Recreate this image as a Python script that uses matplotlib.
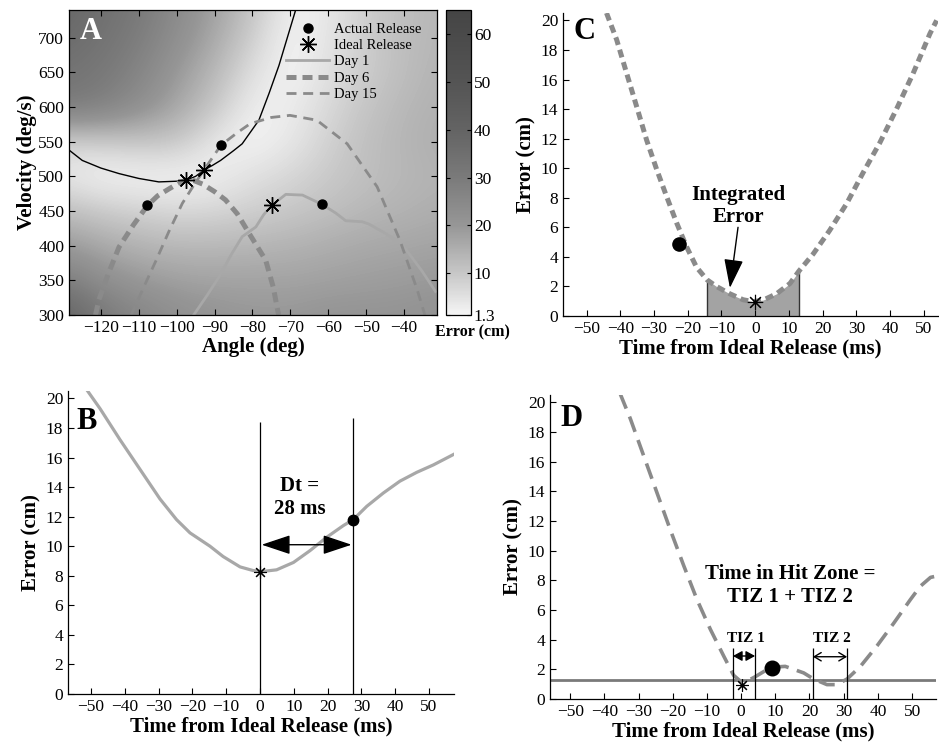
import numpy as np
import matplotlib
matplotlib.use('Agg')
import matplotlib.pyplot as plt
from matplotlib.colors import LinearSegmentedColormap

plt.rcParams['font.family'] = ['Liberation Serif', 'DejaVu Serif']

# ---------------- panel A : error map
grid_angle = [-130, -120, -110, -100, -90, -80, -70, -60, -50, -40, -30]
grid_vel = [300, 350, 400, 450, 500, 550, 600, 650, 700, 750]
err_300 = [41.7, 31.1, 26.4, 22.7, 20.9, 20, 20, 20.9, 20.9, 20.9, 21.8]
err_350 = [29.1, 22.7, 19.5, 17.9, 17.4, 17.4, 17.4, 17.9, 18.4, 18.9, 19.5]
err_400 = [19.5, 16.3, 14.2, 13.2, 13.2, 13.7, 14.2, 15.3, 16.3, 16.8, 17.4]
err_450 = [12.1, 9.5, 8.1, 6.6, 7.1, 8.5, 10, 11.6, 13.2, 14.2, 15.3]
err_500 = [3.7, 1.3, 1.3, 1.3, 2.3, 5.2, 7.1, 9.5, 11.6, 13.2, 14.2]
err_550 = [7.1, 8.1, 10, 10, 3.7, 1.3, 3.7, 8.1, 11.6, 13.7, 15.3]
err_600 = [30, 28.2, 22.7, 16.8, 10, 2.3, 2.75, 6.6, 10.5, 13.2, 14.7]
err_650 = [33.3, 31.1, 26.4, 19.5, 13.2, 5.2, 1.3, 5.2, 9, 12.1, 14.2]
err_700 = [36.7, 33.3, 29.1, 22.7, 16.3, 8.5, 1.3, 4.2, 9, 12.1, 13.7]
err_750 = [39, 35, 31, 24.5, 18, 11, 2, 3.5, 8.5, 11.8, 13.5]

# solution manifold (black line)
sol_angle = [-128.4, -124.9, -120, -115.2, -110, -104.7, -100, -97.6, -95, -92.8, -90.5, -88.4, -85, -82.7, -78.3, -75.6, -73, -70.8, -68.6]
sol_vel = [538, 523, 512, 504, 497, 492, 493, 494.5, 500, 509, 516, 523, 537, 547, 581, 620, 660, 700, 740]

day1_angle = [-95.5, -92, -88.8, -85.5, -82.7, -79.1, -77, -74.8, -71.2, -66.8, -61.6, -58, -55.4, -51, -49.2, -45, -40.5, -35.2, -31.7]
day1_vel = [300, 328, 355, 388, 413, 427, 445, 458.5, 474, 473, 459.5, 447, 436, 434.5, 431, 418, 402, 363, 334]

day6_angle = [-121.4, -120.5, -118, -115.2, -111.4, -107.7, -105, -102, -99.5, -97.6, -95.5, -93.2, -90, -87.1, -84, -80.9, -76.5, -74.5, -73.1]
day6_vel = [300, 322, 360, 398, 430, 458, 472, 482, 490, 494.5, 494, 489, 478, 466, 446, 418, 379, 340, 300]

day15_angle = [-112, -108.7, -105.4, -102, -98.5, -95.5, -92.8, -88.3, -84, -80.6, -75, -70.1, -63, -55, -47.1, -41.1, -36.5, -34.5]
day15_vel = [300, 340, 379, 421, 461, 487, 509, 545, 563, 576, 585, 588, 581, 547, 485, 408, 336, 300]

actual_angle = [-61.6, -107.7, -88.3]
actual_vel = [459.5, 458.5, 545]
ideal_angle = [-74.8, -97.6, -92.8]
ideal_vel = [458.5, 494.5, 509]

cbar_vals = [1.3, 10, 20, 30, 40, 50, 65]
cbar_gray = [0.96, 0.78, 0.59, 0.48, 0.39, 0.33, 0.27]
cbar_ticks = [1.3, 10, 20, 30, 40, 50, 60]

# ---------------- panel B
tB = [-51.3, -47.3, -41.4, -35.5, -29.6, -24.7, -20.7, -14.8, -10.9, -5.9, -2.0, 1.0, 4.9, 9.9, 14.8, 19.7, 24.7, 27.6, 31.6, 36.5, 41.4, 46.4, 51.3, 57.2]
eB = [20.6, 19.3, 17.2, 15.2, 13.2, 11.8, 10.9, 10.0, 9.3, 8.6, 8.35, 8.3, 8.4, 8.9, 9.7, 10.6, 11.4, 11.8, 12.7, 13.6, 14.4, 15.0, 15.5, 16.2]
B_ideal = (0, 8.25)
B_actual = (27.6, 11.75)

# ---------------- panel C
tC = [-44.1, -41.1, -38.1, -35.2, -32.2, -29.2, -26.3, -23.3, -20.4, -17.4, -14.3, -11.5, -7.5, -3.6, -0.6, 2.4, 6.3, 10.3, 13.0, 17.2, 22.1, 27.1, 32.0, 36.9, 41.9, 46.8, 51.8, 53.8]
eC = [20.5, 18.7, 16.4, 14.2, 11.9, 9.9, 8.1, 6.3, 4.7, 3.3, 2.45, 2.0, 1.5, 1.1, 0.97, 1.08, 1.5, 2.2, 3.05, 4.2, 5.8, 7.6, 9.7, 11.7, 14.0, 16.4, 19.1, 20.0]
C_zone = (-14.3, 13.0)
C_ideal = (0, 0.95)
C_actual = (-22.5, 4.9)

# ---------------- panel D
tD = [-35.4, -32.4, -28.5, -24.6, -20.7, -16.8, -12.9, -9.0, -5.1, -2.2, -0.2, 1.7, 4.1, 7.0, 9.5, 12.9, 18.3, 21.2, 25.1, 28.0, 31.0, 34.9, 39.8, 44.6, 49.5, 52.4, 55.4, 57.3]
eD = [20.6, 18.9, 16.4, 13.9, 11.4, 9.0, 6.7, 4.7, 2.9, 1.6, 1.2, 1.2, 1.5, 1.9, 2.15, 2.2, 1.76, 1.35, 0.97, 0.97, 1.35, 2.2, 3.6, 5.1, 6.7, 7.6, 8.2, 8.3]
hit_level = 1.3
tiz1 = (-2.4, 4.1)
tiz2 = (21.0, 31.0)
D_ideal = (0.2, 0.95)
D_actual = (9.0, 2.1)

lt = '#a8a8a8'
mid = '#8a8a8a'
TICK = 12.5
LAB = 15

fig = plt.figure(figsize=(9.39, 7.45), dpi=100)
W, H = 939.0, 745.0

def style(ax, box=False):
    ax.tick_params(direction='in', length=4, width=0.8, labelsize=TICK,
                   top=box, right=box)
    for s in ['top', 'right']:
        ax.spines[s].set_visible(box)
    for s in ax.spines.values():
        s.set_linewidth(0.9)

# ===== A
axA = fig.add_axes([69 / W, (H - 315) / H, 368 / W, 305 / H])
cax = fig.add_axes([446 / W, (H - 315) / H, 25 / W, 305 / H])
pos = [(v - cbar_vals[0]) / (cbar_vals[-1] - cbar_vals[0]) for v in cbar_vals]
cmap = LinearSegmentedColormap.from_list('err', [(p, (g, g, g)) for p, g in zip(pos, cbar_gray)])
Z = np.array([err_300, err_350, err_400, err_450, err_500, err_550, err_600, err_650, err_700, err_750])
im = axA.imshow(Z, origin='lower', extent=[-135, -25, 275, 775], aspect='auto',
                interpolation='bicubic', cmap=cmap, vmin=1.3, vmax=65)
axA.plot(sol_angle, sol_vel, color='k', lw=1)
h1, = axA.plot(day1_angle, day1_vel, color=lt, lw=2, label='Day 1')
h6, = axA.plot(day6_angle, day6_vel, color=mid, lw=3.6, dashes=(2.0, 1.2), label='Day 6')
h15, = axA.plot(day15_angle, day15_vel, color=mid, lw=2, dashes=(3.6, 2.4), label='Day 15')
hd, = axA.plot(actual_angle, actual_vel, 'o', color='k', ms=6.5, ls='none', label='Actual Release')
hs, = axA.plot(ideal_angle, ideal_vel, marker=(8, 2, 0), color='k', ms=12, mew=1, ls='none', label='Ideal Release')
axA.set_xlim(-128.4, -31.3)
axA.set_ylim(300, 740)
axA.set_xticks(range(-120, -39, 10))
axA.set_yticks(range(300, 701, 50))
style(axA, box=True)
axA.set_xlabel('Angle (deg)', fontsize=LAB, fontweight='bold', labelpad=1)
axA.set_ylabel('Velocity (deg/s)', fontsize=LAB, fontweight='bold', labelpad=1)
axA.legend(handles=[hd, hs, h1, h6, h15], loc='upper left', bbox_to_anchor=(0.565, 0.987),
           frameon=False, fontsize=10.5, handlelength=3.0, labelspacing=0.21,
           handletextpad=0.3, numpoints=1, borderaxespad=0.2)
axA.text(0.03, 0.928, 'A', transform=axA.transAxes, color='white', fontsize=22,
         fontweight='bold', va='center', ha='left')

cb = fig.colorbar(im, cax=cax, ticks=cbar_ticks)
cb.ax.set_yticklabels(['1.3', '10', '20', '30', '40', '50', '60'])
cb.ax.tick_params(direction='in', length=3, width=0.8, labelsize=TICK, left=True, right=True, pad=2)
cb.outline.set_linewidth(0.9)
fig.text(472 / W, 1 - 332 / H, 'Error (cm)', ha='center', va='center', fontsize=11.5, fontweight='bold')

# ===== B
axB = fig.add_axes([68 / W, (H - 694) / H, 386 / W, 303 / H])
axB.plot(tB, eB, color=lt, lw=2.3)
axB.vlines([B_ideal[0], B_actual[0]], 0, [18.4, 18.7], color='k', lw=0.9)
axB.plot(*B_ideal, marker=(8, 2, 0), color='k', ms=9, mew=0.8)
axB.plot(*B_actual, 'o', color='k', ms=7.5)
axB.annotate('', xy=(B_actual[0] - 0.5, 10.1), xytext=(0.5, 10.1),
             arrowprops=dict(arrowstyle='<|-|>,head_length=1.8,head_width=0.6',
                             color='k', lw=1, shrinkA=0, shrinkB=0))
axB.text(11.8, 13.3, 'Dt =\n28 ms', ha='center', va='center', fontsize=LAB,
         fontweight='bold', linespacing=1.2)
axB.set_xlim(-56.8, 57.4)
axB.set_ylim(0, 20.5)
axB.set_xticks(range(-50, 51, 10))
axB.set_yticks(range(0, 21, 2))
style(axB)
axB.set_xlabel('Time from Ideal Release (ms)', fontsize=LAB, fontweight='bold', labelpad=1)
axB.set_ylabel('Error (cm)', fontsize=LAB, fontweight='bold', labelpad=3)
axB.text(0.023, 0.90, 'B', transform=axB.transAxes, fontsize=22, fontweight='bold', va='center')

# ===== C
axC = fig.add_axes([563 / W, (H - 316) / H, 375 / W, 303 / H])
tCa = np.array(tC)
axC.fill_between(tC, 0, eC, where=(tCa >= C_zone[0]) & (tCa <= C_zone[1]),
                 color='#a3a3a3', lw=0)
axC.vlines(C_zone, 0, [eC[tC.index(C_zone[0])], eC[tC.index(C_zone[1])]], color='#333333', lw=1)
axC.plot(tC, eC, color=mid, lw=3.6, dashes=(1.6, 1.0))
axC.plot(*C_ideal, marker=(8, 2, 0), color='k', ms=11, mew=0.8)
axC.plot(*C_actual, 'o', color='k', ms=9.5)
axC.annotate('', xy=(-7.5, 1.9), xytext=(-5.1, 6.0),
             arrowprops=dict(arrowstyle='-|>,head_length=1.8,head_width=0.6',
                             color='k', lw=1, shrinkA=0, shrinkB=0))
axC.text(-5, 7.45, 'Integrated\nError', ha='center', va='center', fontsize=LAB,
         fontweight='bold', linespacing=1.15)
axC.set_xlim(-57, 54.2)
axC.set_ylim(0, 20.5)
axC.set_xticks(range(-50, 51, 10))
axC.set_yticks(range(0, 21, 2))
style(axC)
axC.set_xlabel('Time from Ideal Release (ms)', fontsize=LAB, fontweight='bold', labelpad=1)
axC.set_ylabel('Error (cm)', fontsize=LAB, fontweight='bold', labelpad=3)
axC.text(0.027, 0.94, 'C', transform=axC.transAxes, fontsize=22, fontweight='bold', va='center')

# ===== D
axD = fig.add_axes([550 / W, (H - 699) / H, 386 / W, 304 / H])
axD.axhline(hit_level, color='#7a7a7a', lw=2)
axD.plot(tD, eD, color=mid, lw=2.6, dashes=(4.5, 2.4))
axD.vlines(list(tiz1) + list(tiz2), 0, 3.45, color='k', lw=0.9)
axD.annotate('', xy=(tiz1[1], 2.9), xytext=(tiz1[0], 2.9),
             arrowprops=dict(arrowstyle='<|-|>,head_length=0.55,head_width=0.3',
                             color='k', lw=1, shrinkA=0, shrinkB=0))
axD.annotate('', xy=(tiz2[1], 2.85), xytext=(tiz2[0], 2.85),
             arrowprops=dict(arrowstyle='<->,head_length=0.5,head_width=0.3',
                             color='k', lw=1, shrinkA=0, shrinkB=0))
axD.text(sum(tiz1) / 2 + 0.5, 4.1, 'TIZ 1', ha='center', va='center', fontsize=11, fontweight='bold')
axD.text(sum(tiz2) / 2 + 0.5, 4.1, 'TIZ 2', ha='center', va='center', fontsize=11, fontweight='bold')
axD.plot(*D_ideal, marker=(8, 2, 0), color='k', ms=9, mew=0.8)
axD.plot(*D_actual, 'o', color='k', ms=10.5)
axD.text(14.4, 7.65, 'Time in Hit Zone =\nTIZ 1 + TIZ 2', ha='center', va='center',
         fontsize=LAB, fontweight='bold', linespacing=1.15)
axD.set_xlim(-55.9, 57)
axD.set_ylim(0, 20.5)
axD.set_xticks(range(-50, 51, 10))
axD.set_yticks(range(0, 21, 2))
style(axD)
axD.set_xlabel('Time from Ideal Release (ms)', fontsize=LAB, fontweight='bold', labelpad=1)
axD.set_ylabel('Error (cm)', fontsize=LAB, fontweight='bold', labelpad=3)
axD.text(0.026, 0.924, 'D', transform=axD.transAxes, fontsize=22, fontweight='bold', va='center')

fig.savefig('out.png', dpi=100)
